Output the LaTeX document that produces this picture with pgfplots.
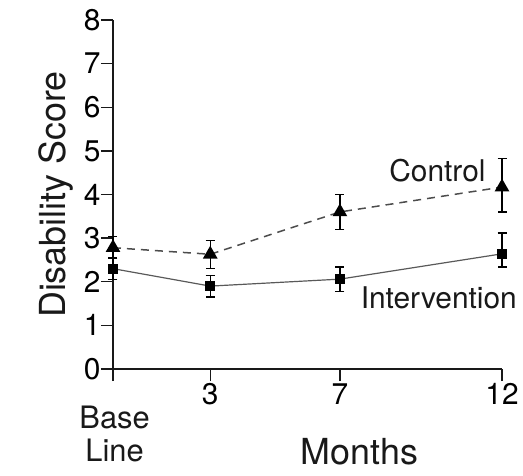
\documentclass[border=0pt]{standalone}
\usepackage{fontspec}
\setmainfont{TeX Gyre Heros}
\usepackage{pgfplots}
\pgfplotsset{compat=1.18}
\usepackage{pgfplotstable}
\pgfplotstableread{
x y ep em
0 2.78 0.25 0.25
3 2.63 0.32 0.32
7 3.60 0.40 0.40
12 4.17 0.65 0.57
}\control
\pgfplotstableread{
x y ep em
0 2.30 0.25 0.25
3 1.90 0.25 0.25
7 2.06 0.28 0.28
12 2.64 0.48 0.30
}\interv
\begin{document}
\begin{tikzpicture}
\begin{axis}[
  scale only axis,
  width=389bp, height=349bp,
  xmin=0, xmax=12, ymin=0, ymax=8,
  axis x line=bottom, axis y line=left,
  axis line style={-, line width=1.5pt, black!90},
  every tick/.style={line width=1.3pt, black!90},
  tick align=outside,
  major tick length=12bp,
  xtick={0,3,7,12}, xticklabels={,3,7,12},
  ytick={0,1,...,8},
  /pgf/number format/assume math mode=true,
  ticklabel style={font=\fontsize{30}{32}\selectfont, black},
  xticklabel style={yshift=1bp},
  yticklabel style={xshift=3bp},
  ylabel={Disability Score},
  ylabel style={font=\fontsize{36}{38}\selectfont, black!90, yshift=4bp},
  clip=false,
]
\path (rel axis cs:0,0) ++(-113bp,-107bp) rectangle ++(523bp,476bp);
\addplot[black!70, line width=1.5pt, dash pattern=on 8bp off 6bp,
  mark=triangle*, mark size=7bp, mark options={solid, black},
  error bars/.cd, y dir=both, y explicit,
  error bar style={line width=1.3pt, black, solid}, error mark options={rotate=90, mark size=4.5bp, line width=1.3pt, black}]
  table[x=x, y=y, y error plus=ep, y error minus=em]{\control};
\addplot[black!65, line width=1.2pt,
  mark=square*, mark size=4.3bp, mark options={solid, black},
  error bars/.cd, y dir=both, y explicit,
  error bar style={line width=1.3pt, black, solid}, error mark options={rotate=90, mark size=4.5bp, line width=1.3pt, black}]
  table[x=x, y=y, y error plus=ep, y error minus=em]{\interv};
\node[font=\fontsize{30}{32}\selectfont, black!90, anchor=east] at (axis cs:11.6,4.55) {Control};
\node[font=\fontsize{30}{32}\selectfont, black!90] at (axis cs:10.05,1.63) {Intervention};
\node[font=\fontsize{31}{34}\selectfont, black!90, align=center, anchor=north] at (axis cs:0.05,0) [yshift=-33bp] {Base\\Line};
\node[font=\fontsize{36}{38}\selectfont, black!90, anchor=north] at (axis cs:7.6,0) [yshift=-66bp] {Months};
\end{axis}
\end{tikzpicture}
\end{document}
